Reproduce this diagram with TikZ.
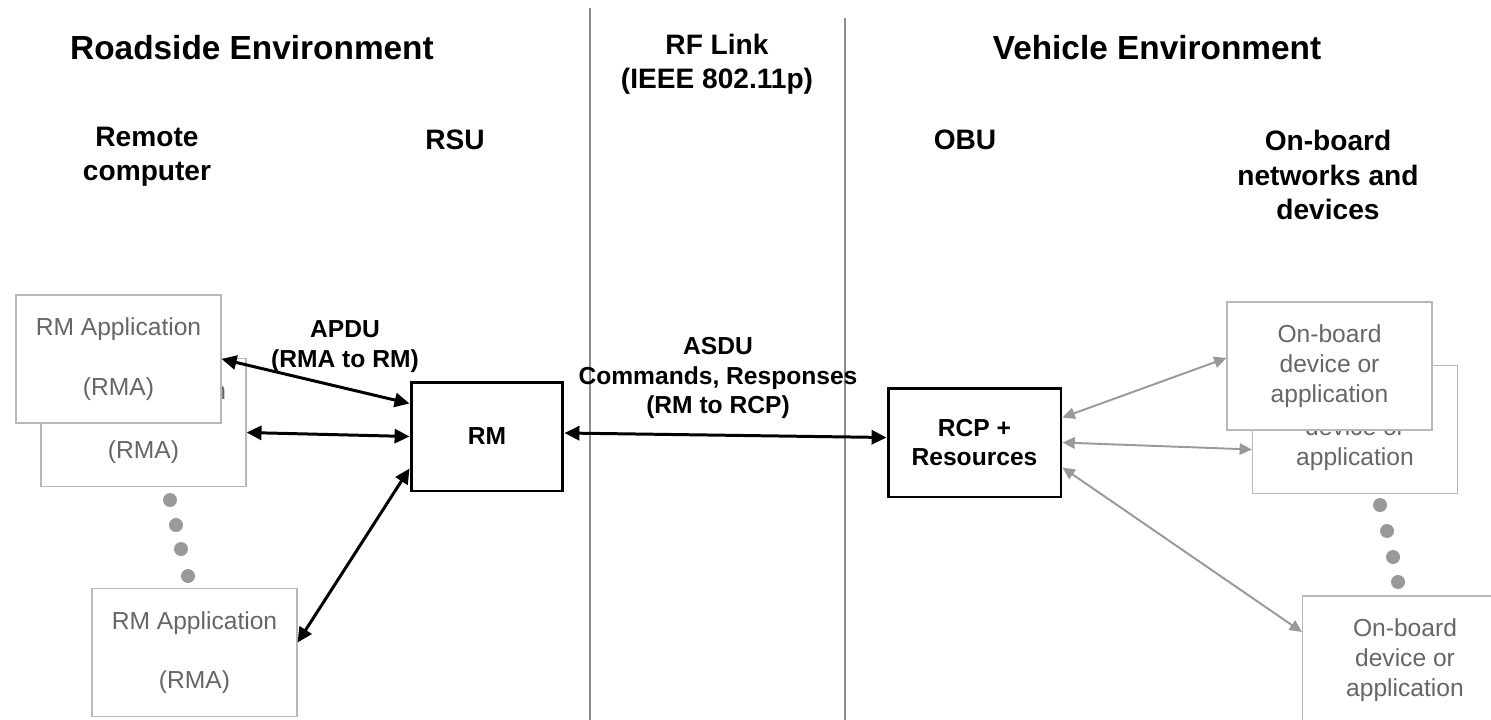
\documentclass[tikz,border=0pt]{standalone}
\usepackage{fontspec}
\setmainfont{Liberation Sans}
\usetikzlibrary{arrows.meta,positioning}

\begin{document}
\begin{tikzpicture}[x=0.02cm,y=-0.02cm,
  every node/.style={align=center,inner sep=2pt},
  ttl/.style={font=\fontsize{19}{22}\selectfont\bfseries},
  hdr/.style={font=\fontsize{16}{19.5}\selectfont\bfseries},
  lbl/.style={font=\fontsize{14}{17}\selectfont\bfseries},
  appbox/.style={draw=black!28,fill=white,line width=0.7pt,text=black!60,
    minimum width=4.1cm,minimum height=2.56cm,font=\fontsize{14}{17}\selectfont},
  mainbox/.style={draw=black,line width=1.7pt,fill=white,minimum height=2.18cm,
    font=\fontsize{14}{17}\selectfont\bfseries},
  blk/.style={line width=1.7pt,{Triangle[length=8.5pt,width=8pt]}-{Triangle[length=8.5pt,width=8pt]}},
  gry/.style={draw=black!40,line width=1.1pt,{Triangle[length=7pt,width=6.5pt]}-{Triangle[length=7pt,width=6.5pt]}},
  dotfill/.style={fill=black!40}]
\clip (0,0) rectangle (1491,720);

\draw[black!45,line width=1.1pt] (590,8) -- (590,720);
\draw[black!45,line width=1.1pt] (845,18) -- (845,720);

\node[ttl] (road) at (252,48) {Roadside Environment};
\node[hdr] (rflink) at (717,64) {RF Link\\(IEEE 802.11p)};
\node[ttl] (vehicle) at (1157,48) {Vehicle Environment};
\node[hdr] (remote) at (147,157) {Remote\\computer};
\node[hdr] (rsu) at (455,140) {RSU};
\node[hdr] (obu) at (965,140) {OBU};
\node[hdr] (onboard) at (1328,175) {On-board\\networks and\\devices};

\node[appbox] (rma2) at (143.5,422.5) {RM Application\\[17pt](RMA)};
\node[appbox] (rma1) at (118.5,359) {RM Application\\[17pt](RMA)};
\node[appbox] (rma3) at (194.5,652.5) {RM Application\\[17pt](RMA)};
\foreach \px/\py in {170/500,176/525,181/549,188/576}
  \fill[dotfill] (\px,\py) circle (0.14cm);

\node[mainbox,minimum width=3.04cm] (rm) at (487,436.5) {RM};
\node[mainbox,minimum width=3.46cm] (rcp) at (974.5,442.5) {RCP +\\Resources};

\node[appbox] (dev2) at (1355,429.5) {On-board\\device or\\application};
\node[appbox] (dev1) at (1329.5,366) {On-board\\device or\\application};
\node[appbox] (dev3) at (1405,660) {On-board\\device or\\application};
\foreach \px/\py in {1380/505,1387/531,1393/557,1398/582}
  \fill[dotfill] (\px,\py) circle (0.14cm);

\node[lbl] (apdu) at (345,347) {APDU\\(RMA to RM)};
\node[lbl] (asdu) at (718,378) {ASDU\\Commands, Responses\\(RM to RCP)};

\draw[blk] (rma1.east) -- ([yshift=0.66cm]rm.west);
\draw[blk] ([yshift=-0.2cm]rma2.east) -- (rm.west);
\draw[blk] ([yshift=0.2cm]rma3.east) -- ([yshift=-0.64cm]rm.west);
\draw[blk] ([yshift=0.07cm]rm.east) -- ([yshift=0.1cm]rcp.west);

\draw[gry] ([yshift=0.5cm]rcp.east) -- ([yshift=0.16cm]dev1.west);
\draw[gry] (rcp.east) -- ([yshift=-0.4cm]dev2.west);
\draw[gry] ([yshift=-0.5cm]rcp.east) -- ([yshift=0.56cm]dev3.west);
\end{tikzpicture}
\end{document}
